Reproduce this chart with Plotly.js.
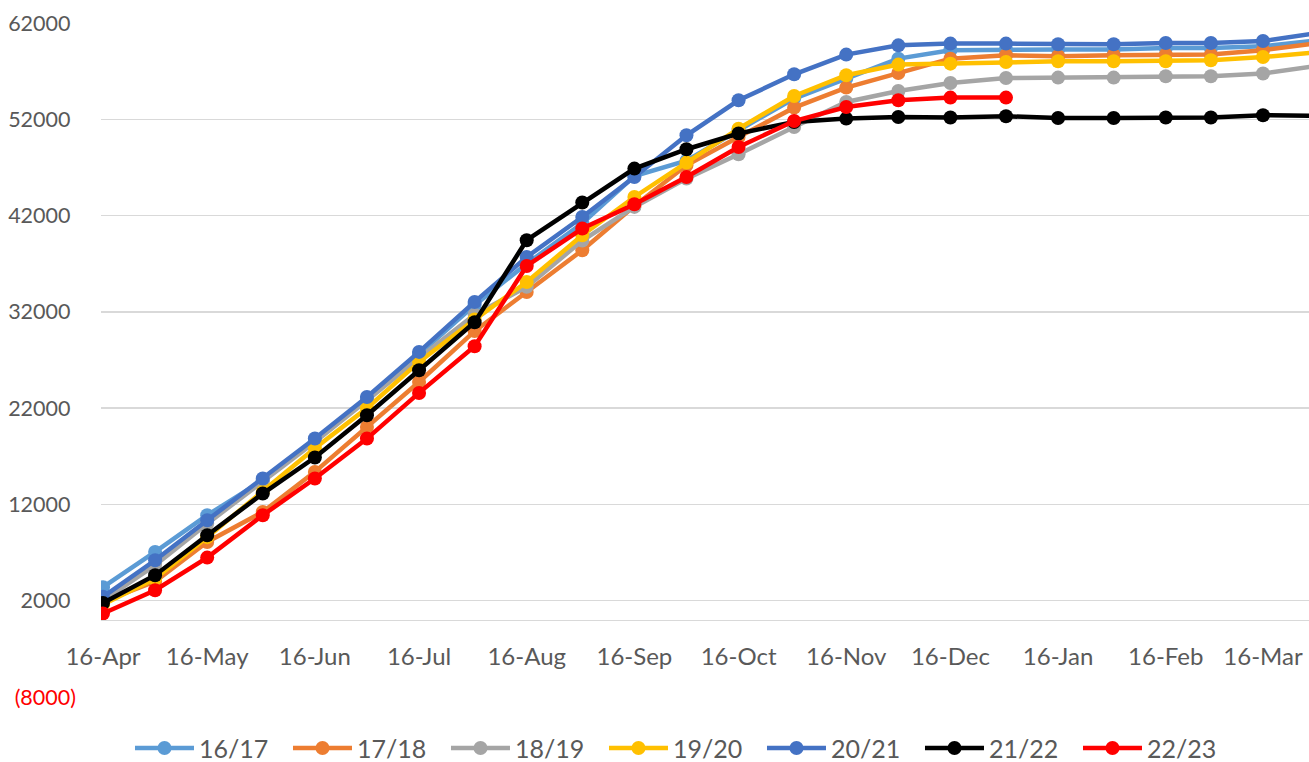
<!DOCTYPE html>
<html>
<head>
<meta charset="utf-8">
<script src="https://cdn.plot.ly/plotly-3.0.1.min.js"></script>
<style>
  html, body { margin: 0; padding: 0; background: #ffffff; }
  #chart { width: 1309px; height: 762px; }
</style>
</head>
<body>
<div id="chart"></div>
<script>
// Semi-monthly observation dates (season runs 16-Apr to 1-Apr)
const dates = [
  '2022-04-16','2022-05-01','2022-05-16','2022-06-01','2022-06-16','2022-07-01',
  '2022-07-16','2022-08-01','2022-08-16','2022-09-01','2022-09-16','2022-10-01',
  '2022-10-16','2022-11-01','2022-11-16','2022-12-01','2022-12-16','2023-01-01',
  '2023-01-16','2023-02-01','2023-02-16','2023-03-01','2023-03-16','2023-04-01'
];

const s1617 = [3400, 7070, 10880, 14500, 18600, 23000, 27600, 32700, 37000, 41200, 46100, 47700,
               50860, 54150, 56220, 58300, 59170, 59240, 59240, 59240, 59400, 59400, 59580, 60200];
const s1718 = [1900, 4000, 8100, 11220, 15380, 20050, 24720, 30000, 34070, 38400, 43000, 47220,
               50160, 53210, 55290, 56810, 58300, 58650, 58540, 58650, 58720, 58720, 59170, 59920];
const s1819 = [2000, 5700, 10000, 14400, 18500, 22800, 27200, 31700, 34600, 39400, 42900, 45840,
               48370, 51200, 53800, 54940, 55770, 56290, 56330, 56330, 56470, 56470, 56750, 57570];
const s1920 = [1600, 4300, 8600, 13300, 17840, 22000, 26800, 31200, 35100, 39950, 43930, 47500,
               51030, 54420, 56570, 57680, 57780, 57950, 58020, 58020, 58020, 58130, 58470, 58960];
const s2021 = [2400, 6200, 10360, 14690, 18840, 23160, 27840, 33030, 37700, 41850, 46000, 50340,
               53970, 56670, 58720, 59680, 59860, 59860, 59790, 59790, 59920, 59920, 60130, 60970];
const s2122 = [1770, 4650, 8800, 13130, 16870, 21260, 25940, 30920, 39440, 43350, 46880, 48890,
               50520, 51720, 52070, 52240, 52180, 52310, 52140, 52140, 52180, 52180, 52420, 52360];
const s2223 = [670, 3090, 6480, 10880, 14690, 18840, 23580, 28430, 36770, 40650, 43170, 46010,
               49120, 51820, 53280, 53970, 54250, 54250];

const seriesNames = ['16/17', '17/18', '18/19', '19/20', '20/21', '21/22', '22/23'];
const seriesValues = [s1617, s1718, s1819, s1920, s2021, s2122, s2223];
const seriesColors = ['#5B9BD5', '#ED7D31', '#A5A5A5', '#FFC000', '#4472C4', '#000000', '#FF0000'];

const yTickVals = [-8000, 2000, 12000, 22000, 32000, 42000, 52000, 62000];
const yTickText = ['<span style="color:#FF0000">(8000)</span>', '2000\u00a0', '12000\u00a0', '22000\u00a0',
                   '32000\u00a0', '42000\u00a0', '52000\u00a0', '62000\u00a0'];

const FONT = 'Lato, "Liberation Sans", Arial, sans-serif';

const traces = seriesNames.map((name, i) => ({
  type: 'scatter',
  mode: 'lines+markers',
  name: name,
  x: dates.slice(0, seriesValues[i].length),
  y: seriesValues[i],
  line: { color: seriesColors[i], width: 4.5 },
  marker: { color: seriesColors[i], size: 14 },
  cliponaxis: true
}));

const layout = {
  width: 1309,
  height: 762,
  paper_bgcolor: '#ffffff',
  plot_bgcolor: '#ffffff',
  margin: { l: 101, r: 0, t: 23, b: 65, pad: 0, autoexpand: false },
  font: { family: FONT, color: '#595959' },
  showlegend: true,
  legend: {
    orientation: 'h',
    x: 0.024, xanchor: 'left',
    y: -0.076, yanchor: 'middle',
    font: { family: FONT, size: 25, color: '#595959' },
    itemwidth: 59,
    entrywidth: 84,
    itemclick: false,
    bgcolor: 'rgba(0,0,0,0)'
  },
  xaxis: {
    type: 'date',
    range: ['2022-04-15 10:10', '2023-03-29 05:53'],
    anchor: 'free',
    position: 8000 / 70000,
    tick0: '2022-04-16',
    dtick: 'M1',
    tickformat: '%d-%b',
    ticks: '',
    ticklabelstandoff: 15,
    tickfont: { family: FONT, size: 24, color: '#595959' },
    showgrid: false,
    showline: true,
    linecolor: '#D9D9D9',
    linewidth: 1.5,
    zeroline: false,
    fixedrange: true
  },
  yaxis: {
    range: [-8000, 62000],
    tickmode: 'array',
    tickvals: yTickVals,
    ticktext: yTickText,
    ticks: '',
    ticklabelstandoff: 24,
    tickfont: { family: FONT, size: 21.5, color: '#595959' },
    showgrid: true,
    gridcolor: '#D9D9D9',
    gridwidth: 1.5,
    zeroline: false,
    showline: false,
    fixedrange: true
  }
};

Plotly.newPlot('chart', traces, layout, { displayModeBar: false, staticPlot: true });
</script>
</body>
</html>
